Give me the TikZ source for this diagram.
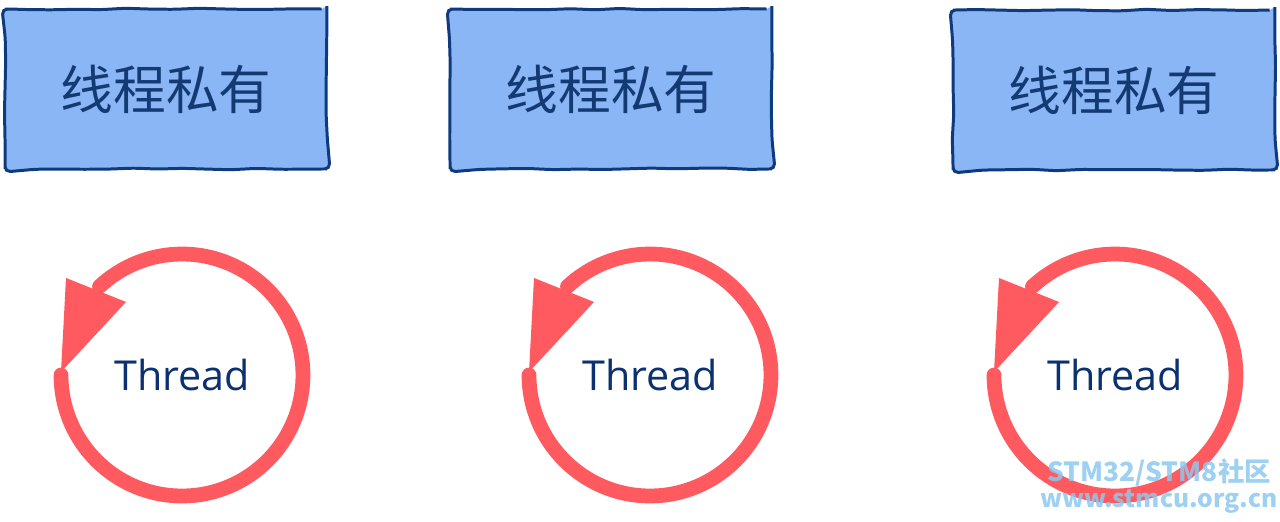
\documentclass[tikz,border=0pt]{standalone}
\usepackage{fontspec}
\usepackage{xcolor}
\usepackage{tikz}
\usetikzlibrary{calc,decorations.pathmorphing}
\setmainfont{Open Sans}
\newfontfamily\cjk{Noto Sans CJK SC}
\definecolor{boxfill}{HTML}{8AB6F5}
\definecolor{boxline}{HTML}{0D3B7E}
\definecolor{boxtext}{HTML}{133A73}
\definecolor{loop}{HTML}{FF5A5F}
\definecolor{threadtext}{HTML}{0B3170}
\definecolor{mark}{HTML}{8CC8EE}
\tikzset{
  privbox/.style={draw=boxline, fill=boxfill, line width=1.7pt, rounded corners=3pt,
    decorate, decoration={random steps, segment length=14pt, amplitude=0.5pt},
    minimum width=6.44cm, minimum height=3.2cm, text=boxtext,
    font=\cjk\fontsize{30}{30}\selectfont},
  threadlabel/.style={text=threadtext, font=\fontsize{23.5}{23.5}\selectfont},
  loopline/.style={draw=loop, line width=8.4pt, line cap=round},
  loophead/.style={fill=loop}
}
\begin{document}
\begin{tikzpicture}[x=0.02cm, y=0.02cm]
\useasboundingbox (0,0) rectangle (1280,521);
% layout the three private boxes
\node[privbox] (B1) at (166,432) {线程私有};
\node[privbox] (B2) at (611,432) {线程私有};
\node[privbox] (B3) at (1114,431) {线程私有};

% layout the centres of the thread loops
\coordinate (C1) at (182,146);
\coordinate (C2) at (650,146);
\coordinate (C3) at (1115,146);

\draw[loopline] ($(C1)+(-121,0)$) arc[start angle=180, end angle=493, radius=2.42cm];
\fill[loophead, shift={(C1)}] (-116,97) -- (-56,73) -- (-121,3) -- cycle;
\node[threadlabel] (T1) at (C1) {Thread};

\draw[loopline] ($(C2)+(-121,0)$) arc[start angle=180, end angle=493, radius=2.42cm];
\fill[loophead, shift={(C2)}] (-116,97) -- (-56,73) -- (-121,3) -- cycle;
\node[threadlabel] (T2) at (C2) {Thread};

\draw[loopline] ($(C3)+(-121,0)$) arc[start angle=180, end angle=493, radius=2.42cm];
\fill[loophead, shift={(C3)}] (-116,97) -- (-56,73) -- (-121,3) -- cycle;
\node[threadlabel] (T3) at (C3) {Thread};

% watermark
\node[text=mark, opacity=0.85, font=\cjk\bfseries\fontsize{14}{14}\selectfont, align=center, inner sep=0pt] (W) at (1159,35) {{\fontsize{15}{15}\selectfont STM32/STM8社区}\\[1pt]www.stmcu.org.cn};
\end{tikzpicture}
\end{document}
